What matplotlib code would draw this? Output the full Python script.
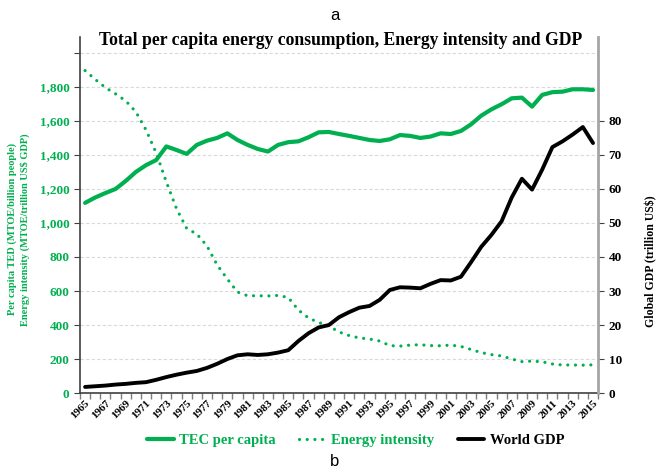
import matplotlib.pyplot as plt
import numpy as np

years = list(range(1965, 2016))

# TEC per capita, MTOE per billion people (left axis)
tec_per_capita = [1118, 1150, 1176, 1200, 1247, 1300, 1340, 1370, 1450, 1429,
                  1406, 1459, 1484, 1500, 1527, 1488, 1459, 1435, 1420, 1459,
                  1475, 1480, 1504, 1533, 1535, 1523, 1512, 1500, 1488, 1482,
                  1492, 1517, 1512, 1500, 1508, 1527, 1523, 1541, 1580, 1631,
                  1668, 1698, 1733, 1737, 1684, 1753, 1769, 1772, 1786, 1786,
                  1782]

# Energy intensity, MTOE per trillion US$ GDP (left axis)
energy_intensity = [1896, 1844, 1796, 1759, 1718, 1653, 1547, 1412, 1241, 1084,
                    968, 935, 865, 753, 671, 594, 572, 572, 571, 574,
                    562, 488, 441, 415, 394, 359, 338, 324, 318, 306,
                    279, 276, 282, 284, 279, 278, 282, 274, 256, 238,
                    226, 218, 200, 185, 188, 184, 171, 165, 165, 164,
                    166]

# World GDP, trillion US$ (right axis)
world_gdp = [1.8, 2.0, 2.2, 2.5, 2.7, 3.0, 3.2, 3.9, 4.7, 5.4,
             6.0, 6.5, 7.4, 8.6, 10.0, 11.1, 11.4, 11.2, 11.4, 11.9,
             12.6, 15.3, 17.6, 19.3, 20.0, 22.3, 23.8, 25.1, 25.6, 27.4,
             30.3, 31.1, 31.0, 30.8, 32.1, 33.2, 33.1, 34.2, 38.5, 43.0,
             46.5, 50.5, 57.5, 63.0, 59.8, 65.7, 72.3, 74.0, 76.0, 78.2,
             73.5]

left_ticks = list(range(0, 2001, 200))
right_ticks = list(range(0, 81, 10))

GREEN = '#00b050'
SERIF = ['Liberation Serif', 'DejaVu Serif']

fig = plt.figure(figsize=(6.69, 4.73), dpi=100)
ax = fig.add_axes([0.1196, 0.169, 0.7744, 0.753])
ax2 = ax.twinx()

x = np.arange(len(years))

l1, = ax.plot(x, tec_per_capita, color=GREEN, lw=3.0, solid_capstyle='round',
              label='TEC per capita')
l2, = ax.plot(x, energy_intensity, color=GREEN, lw=2.3, linestyle=(0, (0.01, 2.4)),
              dash_capstyle='round', label='Energy intensity')
l3, = ax2.plot(x, world_gdp, color='black', lw=2.8, solid_capstyle='round',
               label='World GDP')

ax.set_xlim(-0.5, len(years) - 0.5)
ax.set_ylim(0, 2094)
ax2.set_ylim(0, 104.7)

# grid
ax.set_yticks(left_ticks)
ax.set_yticklabels([f'{v:,}' if v < 2000 else '' for v in left_ticks])
ax.yaxis.grid(True, color='#d9d9d9', linestyle=(0, (3, 2)), lw=0.8)
ax.set_axisbelow(True)

ax2.set_yticks(right_ticks)
ax2.set_yticklabels([str(v) for v in right_ticks])

# category axis: labels every other year, ticks between categories
ax.set_xticks(x[::2])
ax.set_xticklabels([str(y) for y in years[::2]], rotation=45, ha='right',
                   rotation_mode='anchor', family=SERIF, fontweight='bold', fontsize=8)
ax.set_xticks(np.arange(-0.5, len(years), 1), minor=True)
ax.tick_params(axis='x', which='major', length=0, pad=4)
ax.tick_params(axis='x', which='minor', length=4, color='#7f7f7f', width=1)

ax.tick_params(axis='y', length=4, color='#404040', labelcolor=GREEN, labelsize=9.5)
for lab in ax.get_yticklabels():
    lab.set_family(SERIF)
    lab.set_fontweight('bold')
ax2.tick_params(axis='y', length=4, color='#404040', labelcolor='black', labelsize=9.5)
for lab in ax2.get_yticklabels():
    lab.set_family(SERIF)
    lab.set_fontweight('bold')

for a in (ax, ax2):
    a.spines['top'].set_visible(False)
ax.spines['left'].set_color('#404040')
ax.spines['left'].set_linewidth(1.2)
ax.spines['bottom'].set_color('#404040')
ax.spines['bottom'].set_linewidth(1.2)
ax2.spines['right'].set_color('#a6a6a6')
ax2.spines['right'].set_linewidth(2.0)
ax2.spines['left'].set_visible(False)
ax2.spines['bottom'].set_visible(False)

ax.set_ylabel('Per capita TED (MTOE/billion people)\nEnergy intensity (MTOE/trillion US$ GDP)',
              color=GREEN, family=SERIF, fontweight='bold', fontsize=7.5,
              linespacing=1.3)
ax.yaxis.set_label_coords(-0.097, 0.46)
ax2.set_ylabel('Global GDP (trillion US$)', family=SERIF, fontweight='bold',
               fontsize=8.5)
ax2.yaxis.set_label_coords(1.09, 0.37)

fig.text(0.509, 0.915, 'Total per capita energy consumption, Energy intensity and GDP',
         ha='center', va='center', family=SERIF, fontweight='bold', fontsize=12.7)
fig.text(0.5, 0.968, 'a', ha='center', va='center', family='Liberation Sans', fontsize=12)
fig.text(0.5, 0.024, 'b', ha='center', va='center', family='Liberation Sans', fontsize=12)

leg = fig.legend(handles=[l1, l2, l3], loc='center', bbox_to_anchor=(0.532, 0.068),
                 ncol=3, frameon=False, handlelength=1.8, handletextpad=0.4,
                 columnspacing=1.6, prop={'family': SERIF, 'weight': 'bold', 'size': 10.5})
for txt, col in zip(leg.get_texts(), [GREEN, GREEN, 'black']):
    txt.set_color(col)

fig.savefig('out.png', dpi=100)
